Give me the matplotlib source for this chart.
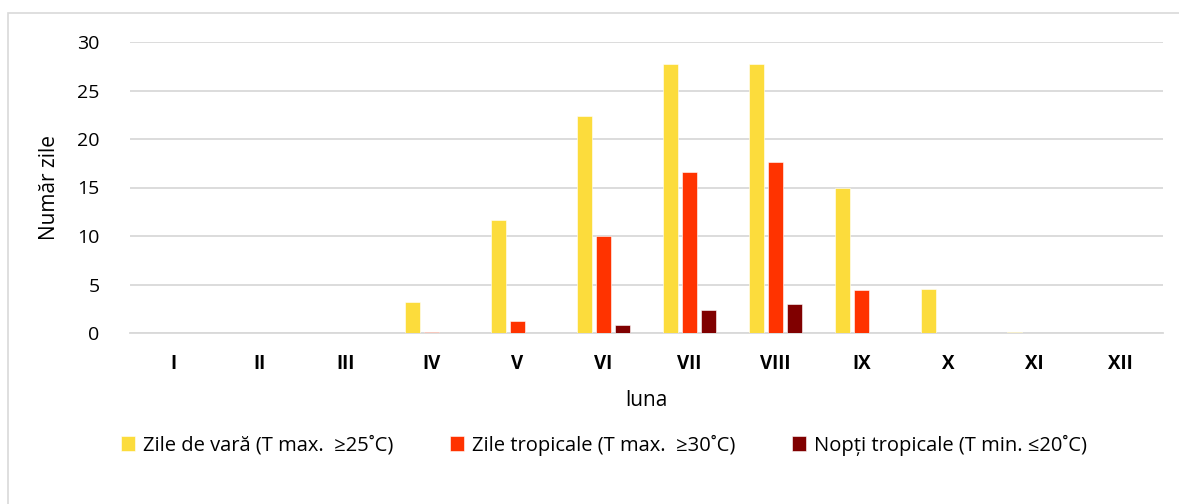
import matplotlib
matplotlib.use("Agg")
import matplotlib.pyplot as plt
import numpy as np
from matplotlib.patches import Rectangle

plt.rcParams['font.family'] = ['Open Sans', 'DejaVu Sans']

months = ["I", "II", "III", "IV", "V", "VI", "VII", "VIII", "IX", "X", "XI", "XII"]
zile_vara = [0, 0, 0, 3.2, 11.7, 22.4, 27.7, 27.7, 14.9, 4.5, 0.1, 0]
zile_tropicale = [0, 0, 0, 0.1, 1.2, 10.0, 16.6, 17.6, 4.4, 0.05, 0, 0]
nopti_tropicale = [0, 0, 0, 0.05, 0, 0.8, 2.4, 2.95, 0.05, 0, 0, 0]
series_labels = ["Zile de vară (T max.  ≥25˚C)",
                 "Zile tropicale (T max.  ≥30˚C)",
                 "Nopți tropicale (T min. ≤20˚C)"]
colors = ["#FCDC3C", "#FF3300", "#800000"]

W, H = 1179, 504
fig = plt.figure(figsize=(W / 100, H / 100), dpi=100)
ax = fig.add_axes([130 / W, 1 - 333 / H, (1163 - 130) / W, (333 - 42) / H])

x = np.arange(len(months))
bw = 0.175
step = 0.22
for i, (vals, c, lab) in enumerate(zip([zile_vara, zile_tropicale, nopti_tropicale], colors, series_labels)):
    ax.bar(x + (i - 1) * step, vals, width=bw, color=c, label=lab,
           edgecolor="#ffffff", linewidth=0.4, zorder=3)

ax.set_xlim(-0.5, len(months) - 0.5)
ax.set_ylim(0, 30)
ax.set_yticks([0, 5, 10, 15, 20, 25, 30])
ax.yaxis.grid(True, color="#D9D9D9", linewidth=1.3, zorder=0)
ax.set_axisbelow(True)
for s in ["top", "right", "left"]:
    ax.spines[s].set_visible(False)
ax.spines["bottom"].set_color("#D9D9D9")
ax.spines["bottom"].set_linewidth(1.3)
ax.tick_params(axis="both", length=0, colors="black")
ax.tick_params(axis="y", pad=22, labelsize=14)
ax.tick_params(axis="x", pad=15)
ax.set_xticks(x)
ax.set_xticklabels(months, fontweight="bold", fontsize=13.5)

ax.set_ylabel("Număr zile", fontsize=15, labelpad=12)
ax.set_xlabel("luna", fontsize=15, labelpad=12)

leg = fig.legend(loc="center", bbox_to_anchor=(604 / W, 1 - 445 / H), ncol=3,
                 frameon=False, fontsize=14.5, handlelength=0.7, handleheight=0.7,
                 handletextpad=0.4, columnspacing=2.8)

fig.patches.append(Rectangle((8 / W, -0.1), 1.2, 1 - 13 / H + 0.1, transform=fig.transFigure,
                             fill=False, edgecolor="#D9D9D9", linewidth=1.2))

fig.savefig("out.png", dpi=100)
